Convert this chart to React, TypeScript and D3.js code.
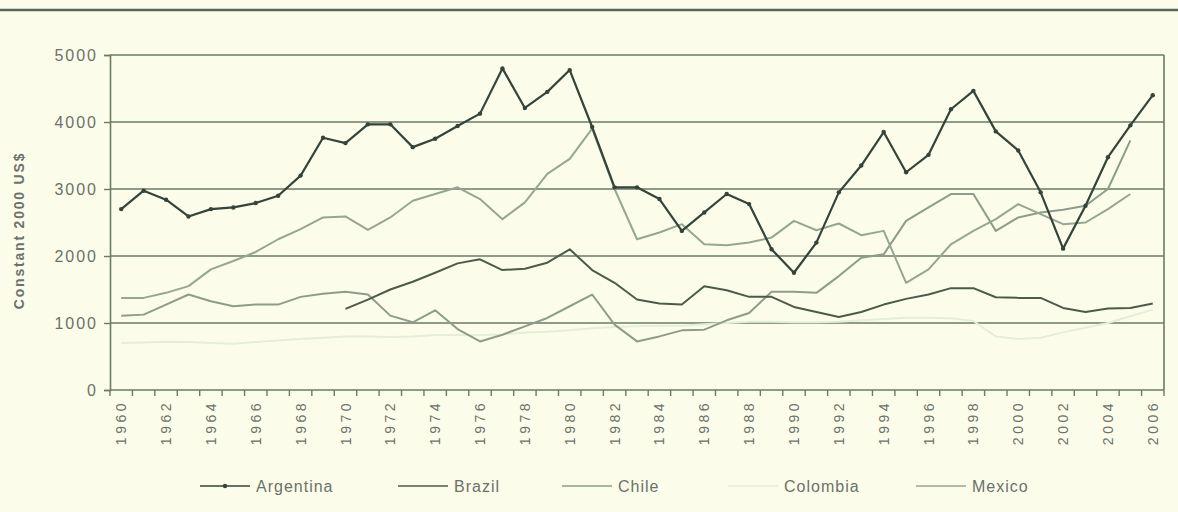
import React, { useEffect, useRef } from 'react';
import * as d3 from 'd3';

const years = d3.range(1960, 2007);

const argentina = [2700, 2975, 2840, 2590, 2700, 2725, 2790, 2900, 3200, 3765, 3685, 3965, 3965, 3625, 3750, 3940, 4125, 4800, 4210, 4450, 4775, 3925, 3025, 3025, 2850, 2375, 2650, 2925, 2775, 2100, 1750, 2200, 2950, 3350, 3850, 3250, 3510, 4190, 4465, 3860, 3575, 2950, 2110, 2750, 3475, 3950, 4400];
const brazil = [null, null, null, null, null, null, null, null, null, null, 1210, 1350, 1500, 1615, 1750, 1890, 1950, 1790, 1810, 1900, 2100, 1790, 1600, 1350, 1290, 1275, 1550, 1490, 1390, 1390, 1240, 1165, 1090, 1165, 1275, 1360, 1425, 1520, 1520, 1385, 1375, 1375, 1225, 1165, 1215, 1225, 1290];
const chile = [1110, 1125, 1275, 1425, 1325, 1250, 1275, 1275, 1390, 1435, 1465, 1425, 1110, 1010, 1190, 910, 725, 825, 950, 1075, 1250, 1425, 975, 725, 800, 890, 900, 1040, 1150, 1465, 1465, 1450, 1700, 1975, 2025, 2525, 2725, 2925, 2925, 2375, 2575, 2650, 2690, 2750, 3000, 3725, null];
const colombia = [700, 710, 720, 715, 700, 690, 715, 740, 760, 780, 800, 800, 790, 800, 820, 820, 820, 830, 860, 870, 890, 920, 940, 950, 960, 960, 980, 1000, 1020, 1020, 1010, 1010, 1020, 1040, 1060, 1080, 1080, 1070, 1030, 800, 760, 780, 860, 930, 1000, 1100, 1200];
const mexico = [1375, 1375, 1450, 1550, 1800, 1925, 2060, 2250, 2400, 2575, 2590, 2390, 2575, 2825, 2925, 3025, 2850, 2550, 2800, 3225, 3450, 3900, 3000, 2250, 2350, 2475, 2175, 2160, 2200, 2275, 2525, 2385, 2485, 2310, 2375, 1600, 1800, 2175, 2375, 2550, 2775, 2625, 2475, 2500, 2700, 2925, null];

const yTicks = [0, 1000, 2000, 3000, 4000, 5000];

const series = [
  { name: 'Argentina', values: argentina, color: '#36433a', width: 2.2, markers: true, legendX: 200 },
  { name: 'Brazil', values: brazil, color: '#4c5a4b', width: 2, markers: false, legendX: 398 },
  { name: 'Chile', values: chile, color: '#8e9c8b', width: 2, markers: false, legendX: 562 },
  { name: 'Colombia', values: colombia, color: '#e5eed9', width: 2, markers: false, legendX: 728 },
  { name: 'Mexico', values: mexico, color: '#97a594', width: 2, markers: false, legendX: 916 },
];

const App: React.FC = () => {
  const svgRef = useRef<SVGSVGElement>(null);

  useEffect(() => {
    if (!svgRef.current) return;
    const svg = d3.select(svgRef.current);
    svg.selectAll('*').remove();

    const width = 1178;
    const height = 512;
    const margin = { top: 55, right: 14, bottom: 122, left: 110 };
    const font = 'Liberation Sans, Arial, sans-serif';
    const textColor = '#6c716a';
    const gridColor = '#6b7a69';

    svg.append('rect').attr('width', width).attr('height', height).attr('fill', '#fbfdea');

    // top rule
    svg.append('line')
      .attr('x1', 0).attr('x2', width).attr('y1', 10).attr('y2', 10)
      .attr('stroke', '#59645a').attr('stroke-width', 2.5);

    const x = d3.scaleBand<number>()
      .domain(years)
      .range([margin.left, width - margin.right]);
    const cx = (yr: number) => x(yr)! + x.bandwidth() / 2;
    const y = d3.scaleLinear().domain([0, 5000]).range([height - margin.bottom, margin.top]);

    // gridlines
    svg.append('g')
      .selectAll('line')
      .data(yTicks.filter(d => d > 0))
      .join('line')
      .attr('x1', margin.left).attr('x2', width - margin.right)
      .attr('y1', d => y(d)).attr('y2', d => y(d))
      .attr('stroke', gridColor).attr('stroke-width', 1.6);

    // right border
    svg.append('line')
      .attr('x1', width - margin.right).attr('x2', width - margin.right)
      .attr('y1', margin.top).attr('y2', y(0))
      .attr('stroke', gridColor).attr('stroke-width', 1.6);

    // y axis
    const yAxis = svg.append('g')
      .attr('transform', `translate(${margin.left},0)`)
      .call(d3.axisLeft(y).tickValues(yTicks).tickSize(6).tickPadding(6).tickFormat(d3.format('d')) as any);
    yAxis.select('.domain').attr('stroke', gridColor).attr('stroke-width', 1.6);
    yAxis.selectAll('.tick line').attr('stroke', gridColor).attr('stroke-width', 1.4);
    yAxis.selectAll('.tick text')
      .attr('fill', textColor).style('font-family', font).style('font-size', '16px')
      .style('letter-spacing', '2px');

    // x axis baseline and ticks at band boundaries
    svg.append('line')
      .attr('x1', margin.left).attr('x2', width - margin.right)
      .attr('y1', y(0)).attr('y2', y(0))
      .attr('stroke', gridColor).attr('stroke-width', 1.6);
    svg.append('g')
      .selectAll('line')
      .data(years.concat([2007]))
      .join('line')
      .attr('x1', d => (d === 2007 ? width - margin.right : x(d)!))
      .attr('x2', d => (d === 2007 ? width - margin.right : x(d)!))
      .attr('y1', y(0)).attr('y2', y(0) + 6)
      .attr('stroke', gridColor).attr('stroke-width', 1.4);

    svg.append('g')
      .selectAll('text')
      .data(years.filter(d => d % 2 === 0))
      .join('text')
      .attr('transform', d => `translate(${cx(d)},${y(0) + 10}) rotate(-90)`)
      .attr('text-anchor', 'end')
      .attr('dy', '0.36em')
      .attr('fill', textColor)
      .style('font-family', font).style('font-size', '14px').style('letter-spacing', '3.5px')
      .text(d => String(d));

    // y title
    svg.append('text')
      .attr('transform', `translate(24,${(y(0) + y(5000)) / 2 + 8}) rotate(-90)`)
      .attr('text-anchor', 'middle')
      .attr('fill', textColor)
      .style('font-family', font).style('font-size', '14px').style('font-weight', 'bold')
      .style('letter-spacing', '1.8px')
      .text('Constant 2000 US$');

    const line = d3.line<number | null>()
      .defined(d => d !== null)
      .x((_, i) => cx(years[i]))
      .y(d => y(d as number));

    const drawOrder = ['Colombia', 'Chile', 'Mexico', 'Brazil', 'Argentina'];
    drawOrder.forEach(name => {
      const s = series.find(t => t.name === name)!;
      svg.append('path')
        .datum(s.values)
        .attr('d', line as any)
        .attr('fill', 'none')
        .attr('stroke', s.color)
        .attr('stroke-width', s.width)
        .attr('stroke-linejoin', 'round');
      if (s.markers) {
        svg.append('g')
          .selectAll('circle')
          .data(s.values.map((v, i) => ({ v, yr: years[i] })).filter(d => d.v !== null))
          .join('circle')
          .attr('cx', d => cx(d.yr))
          .attr('cy', d => y(d.v as number))
          .attr('r', 2.2)
          .attr('fill', s.color);
      }
    });

    // legend
    const ly = 486;
    series.forEach(s => {
      const g = svg.append('g');
      g.append('line')
        .attr('x1', s.legendX).attr('x2', s.legendX + 50)
        .attr('y1', ly).attr('y2', ly)
        .attr('stroke', s.color).attr('stroke-width', 1.6);
      if (s.markers) {
        g.append('circle').attr('cx', s.legendX + 25).attr('cy', ly).attr('r', 2.2).attr('fill', s.color);
      }
      g.append('text')
        .attr('x', s.legendX + 56).attr('y', ly).attr('dy', '0.36em')
        .attr('fill', textColor)
        .style('font-family', font).style('font-size', '16px').style('letter-spacing', '1px')
        .text(s.name);
    });
  }, []);

  return (
    <svg
      ref={svgRef}
      width={1178}
      height={512}
      style={{ position: 'absolute', left: 0, top: 0, display: 'block' }}
    />
  );
};

export default App;
